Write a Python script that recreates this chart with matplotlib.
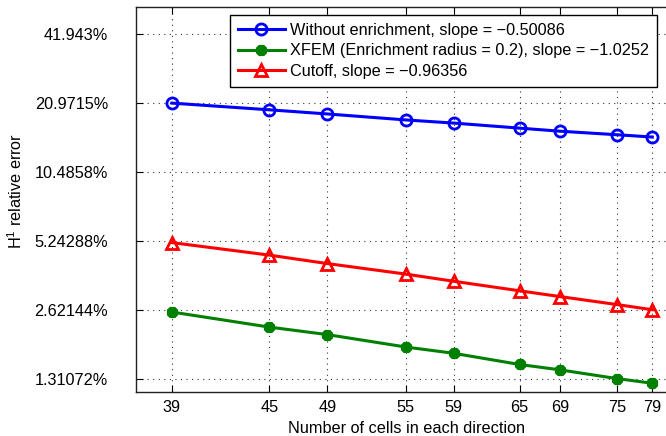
import numpy as np
import matplotlib
matplotlib.use("Agg")
import matplotlib.pyplot as plt
from matplotlib.ticker import FixedLocator, FixedFormatter, NullLocator

plt.rcParams['font.family'] = ['Liberation Sans', 'DejaVu Sans']
plt.rcParams['mathtext.fontset'] = 'custom'
plt.rcParams['mathtext.rm'] = 'Liberation Sans'
plt.rcParams['mathtext.it'] = 'Liberation Sans'

# number of cells in each direction
cells = [39, 45, 49, 55, 59, 65, 69, 75, 79]

# H1 relative error in percent
err_plain = [20.97, 19.6, 18.8, 17.7, 17.15, 16.3, 15.8, 15.25, 14.9]
err_xfem = [2.56, 2.20, 2.04, 1.80, 1.69, 1.51, 1.43, 1.31, 1.25]
err_cutoff = [5.15, 4.54, 4.17, 3.75, 3.49, 3.17, 2.99, 2.76, 2.62]

labels = [
    "Without enrichment, slope = \u22120.50086",
    "XFEM (Enrichment radius = 0.2), slope = \u22121.0252",
    "Cutoff, slope = \u22120.96356",
]

y_ticks = [1.31072, 2.62144, 5.24288, 10.4858, 20.9715, 41.943]
y_tick_labels = ["1.31072%", "2.62144%", "5.24288%", "10.4858%", "20.9715%", "41.943%"]

fs = 11.7

fig = plt.figure(figsize=(6.66, 4.36), dpi=100)
ax = fig.add_axes([136 / 666, 1 - 391.7 / 436, 540 / 666, 384.4 / 436])

ax.plot(cells, err_plain, color=(0, 0, 1), lw=2.2, marker='o', ms=8,
        mfc='none', mec=(0, 0, 1), mew=2, label=labels[0])
ax.plot(cells, err_xfem, color=(0, 0.5, 0), lw=2.2, marker=(8, 2, 0), ms=8,
        mec=(0, 0.5, 0), mew=3, label=labels[1])
ax.plot(cells, err_cutoff, color=(1, 0, 0), lw=2.2, marker='^', ms=9,
        mfc='none', mec=(1, 0, 0), mew=2, label=labels[2])

ax.set_xscale('log')
ax.set_yscale('log', base=2)
ax.set_xlim(37.0, 81.8)
ax.set_ylim(1.148, 55.0)

ax.xaxis.set_major_locator(FixedLocator(cells))
ax.xaxis.set_major_formatter(FixedFormatter([str(c) for c in cells]))
ax.xaxis.set_minor_locator(NullLocator())
ax.yaxis.set_major_locator(FixedLocator(y_ticks))
ax.yaxis.set_major_formatter(FixedFormatter(y_tick_labels))
ax.yaxis.set_minor_locator(NullLocator())

ax.tick_params(axis='both', direction='in', length=5, width=0.8,
               top=True, right=False, labelsize=fs, colors='black')
ax.tick_params(axis='y', pad=20)
ax.tick_params(axis='x', pad=6)

ax.grid(True, which='major', color='#333333', linestyle=(0, (1, 4)), linewidth=0.8)
for s in ax.spines.values():
    s.set_linewidth(1.0)
    s.set_color('#222222')
ax.spines['right'].set_visible(False)

ax.set_xlabel("Number of cells in each direction", fontsize=fs, labelpad=4)
ax.set_ylabel("H$^1$ relative error", fontsize=fs)
ax.yaxis.set_label_coords(-0.205, 0.522)

leg = ax.legend(loc='upper right', bbox_to_anchor=(657 / 666, 1 - 15 / 436),
                bbox_transform=fig.transFigure, fontsize=fs, frameon=True,
                fancybox=False, shadow=False, framealpha=1, edgecolor='black',
                handlelength=2.9, handletextpad=0.3, borderpad=0.5,
                labelspacing=0.33, borderaxespad=0)
leg.get_frame().set_linewidth(1.0)

fig.savefig("out.png", dpi=100)
